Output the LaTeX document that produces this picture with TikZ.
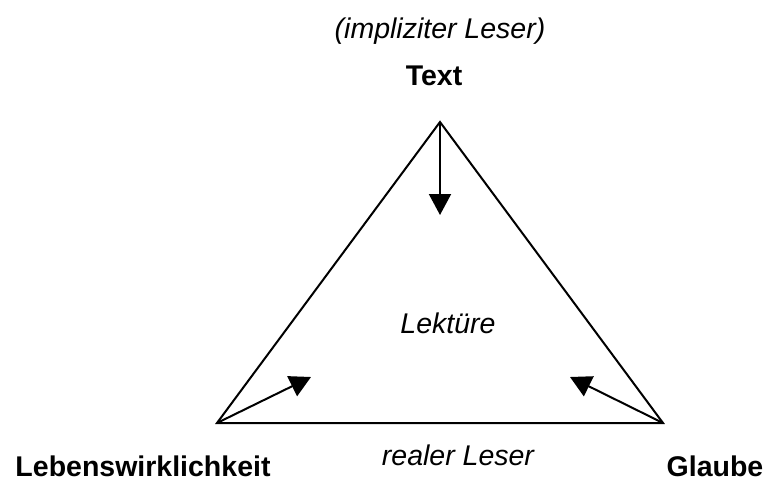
\documentclass[tikz,border=0pt]{standalone}
\usepackage{fontspec}
\setmainfont{Liberation Sans}
\usetikzlibrary{arrows.meta}

\begin{document}
\begin{tikzpicture}
          [x=1pt,y=-1pt,line width=2pt,every node/.style={inner sep = 0pt, anchor=base},
           lbl/.style={font=\fontsize{28.5}{32}\selectfont\bfseries},
           note/.style={font=\fontsize{28.5}{32}\selectfont\itshape}]
        \useasboundingbox (0,0) rectangle (769,479);

        \coordinate (top) at (440,122);
        \coordinate (bl) at (217,423);
        \coordinate (br) at (663,423);

        \coordinate (ttip) at (440,215);
        \coordinate (ltip) at (311,377);
        \coordinate (rtip) at (570,377);

        \node[note] (impl) at (440,38) {(impliziter Leser)};
        \node[lbl] (text) at (434,85) {Text};
        \node[note] (lekt) at (448,333) {Lektüre};
        \node[note] (real) at (458,465) {realer Leser};
        \node[lbl] (leben) at (143,476) {Lebenswirklichkeit};
        \node[lbl] (glaube) at (715,476) {Glaube};

        \draw[line join=miter] (top) -- (br) -- (bl) -- cycle;

        \foreach \from/\to in {top/ttip, bl/ltip, br/rtip}
          \draw[-{Triangle[length=21pt,width=22pt]}] (\from) -- (\to);
      \end{tikzpicture}
\end{document}
